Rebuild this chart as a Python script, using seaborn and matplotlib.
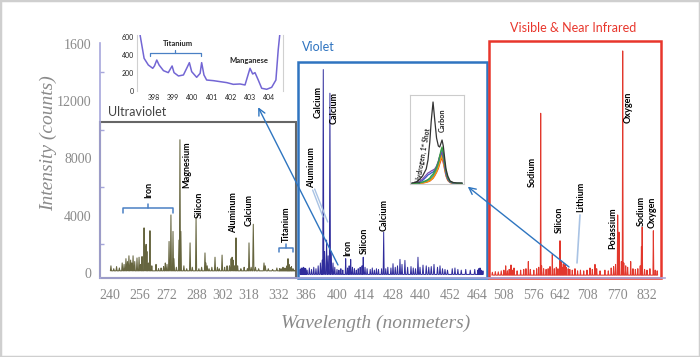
import numpy as np
import matplotlib
matplotlib.use('Agg')
import matplotlib.pyplot as plt
import seaborn as sns
import pandas as pd
from matplotlib.patches import Rectangle

sns.set_theme(style='white')
plt.rcParams['font.family'] = ['Lato', 'DejaVu Sans']

# ---------------- data ----------------
# x-axis tick labels (non-uniform axis as in the original)
TICK_WL = [240, 256, 272, 288, 302, 318, 332, 386, 400, 414, 428, 440, 452, 464,
           508, 576, 642, 708, 770, 832]
Y_TICKS = [0, 4000, 8000, 12000, 16000]
Y_TICK_LABELS = ['0', '4000', '8000', '12000', '1600']

# Ultraviolet spectrum peaks (wavelength, intensity)
UV_PEAK_WL = [240.5, 242, 243.5, 245, 246.5, 247.5, 248.5, 249.3, 250.1, 251, 251.6, 252.3,
              253.2, 254.4, 255.5, 256.3, 257.2, 258.4, 259, 259.6, 260.1, 261, 261.9, 263,
              265.5, 267, 268.5, 270, 271, 272, 273.1, 274.1, 275.2, 275.7, 277, 278.4,
              278.9, 279.4, 281, 282.5, 284.3, 285.5, 287.5, 289, 290.5, 292.3, 292.8,
              293.5, 294.5, 296, 297.7, 299, 300, 301.5, 303, 304.5, 306, 307, 307.6, 308.2,
              309, 310, 311, 313, 315, 317, 318, 319, 320, 321, 322.5, 325, 325.6, 327, 329,
              331, 333, 336, 340, 344, 348, 350, 352, 354, 357, 360, 364]
UV_PEAK_I = [500, 300, 450, 350, 700, 600, 1000, 800, 1200, 900, 700, 1200,
             800, 1050, 1100, 600, 1150, 3150, 1800, 2000, 1500, 700, 2950, 500,
             600, 300, 350, 450, 700, 600, 2200, 4050, 2900, 1000, 400, 2300,
             9300, 2900, 500, 300, 2100, 400, 3800, 300, 400, 1400, 700,
             500, 300, 400, 1100, 400, 300, 1250, 400, 500, 500, 1000, 1100, 900,
             500, 2450, 500, 300, 400, 300, 2100, 400, 3400, 400, 300, 700, 500, 300, 250,
             350, 300, 300, 400, 350, 500, 1000, 600, 400, 450, 300, 200]

# Violet spectrum peaks
VIO_PEAK_WL = [374.5, 375.5, 376.5, 377.5, 378.5, 379.5, 380.5, 381.5, 382.5, 383.5, 384.5,
               385.5, 386.5, 387.5, 388.5, 389.5, 390.5, 391.5, 392.5, 393.3, 393.8, 394.4,
               395.3, 396.0, 396.8, 397.4, 398.2, 399, 400, 401, 402, 403, 404.5, 405.5,
               406.3, 407.1, 408, 409, 410, 411, 412, 413, 413.6, 414.5, 415.5, 417, 418,
               419, 420, 421, 422.5, 423.5, 424.5, 425.5, 427, 428, 429, 430, 431.1, 432,
               433.3, 434.5, 436, 437, 438, 439.1, 440, 441.2, 442.5, 443.5, 444.5, 445.6,
               447, 448, 449, 450, 451, 453, 454.2, 455.5, 457, 459, 461, 463, 465, 467,
               469.1, 471, 474]
VIO_PEAK_I = [250, 150, 350, 200, 300, 250, 400, 200, 300, 350, 250,
              300, 200, 350, 250, 400, 300, 500, 700, 900, 14200, 1500,
              2300, 1200, 12550, 1500, 700, 400, 250, 200, 300, 200, 1000, 350,
              500, 950, 400, 300, 200, 300, 400, 500, 1100, 400, 300, 250, 350,
              200, 300, 250, 300, 2850, 300, 400, 350, 650, 400, 500, 950, 600,
              880, 400, 450, 350, 300, 1100, 400, 550, 500, 400, 450, 600,
              400, 500, 300, 250, 200, 300, 350, 250, 200, 250, 200, 250, 200, 300,
              350, 200, 150]

# Visible & near infrared spectrum peaks
VIS_PEAK_WL = [490, 495, 500, 505, 510, 514.1, 518, 522, 526.1, 529, 532.9, 540, 548, 555,
               560, 565.4, 570, 578, 585, 590, 594.8, 597, 602, 608, 613, 617.6, 623.2, 628,
               633, 637, 642, 644.4, 647, 650, 654.2, 657, 662, 666, 672, 678.6, 685, 692,
               700, 708, 714.2, 719, 724.5, 728, 735, 745, 752, 758, 763, 767, 771.4, 774.1,
               779, 781.8, 784, 788, 792, 798.3, 803, 808, 813, 818, 820.5, 822, 827, 832,
               838, 845.1, 849, 853]
VIS_PEAK_I = [50, 100, 80, 150, 200, 500, 150, 250, 560, 200, 350, 150, 200, 250,
              300, 800, 250, 200, 300, 400, 11150, 500, 300, 250, 300, 450, 1300, 300,
              400, 300, 2250, 800, 400, 650, 600, 400, 300, 250, 200, 300, 150, 200,
              150, 200, 350, 250, 600, 300, 150, 200, 150, 350, 450, 600, 4050, 2850,
              800, 15500, 700, 500, 400, 800, 300, 250, 300, 500, 1850, 3200, 250, 200,
              300, 2950, 200, 150]

# Titanium / manganese inset spectrum
TI_WL = [397.27, 397.48, 397.70, 397.93, 398.02, 398.14, 398.26, 398.49, 398.74, 398.94,
         399.04, 399.27, 399.53, 399.74, 399.84, 399.96, 400.22, 400.40, 400.48, 400.60,
         400.74, 401.09, 401.44, 401.79, 402.13, 402.48, 402.74, 403.0, 403.14, 403.26,
         403.43, 403.61, 403.87, 404.13, 404.35, 404.47, 404.56]
TI_I = [622, 363, 289, 252, 278, 344, 289, 226, 204, 278,
        204, 167, 178, 270, 315, 215, 152, 196, 315, 178,
        122, 115, 104, 93, 74, 78, 67, 252, 189, 204,
        122, 30, 19, 41, 122, 456, 644]

# Hydrogen / carbon inset (several laser shots)
HC_WL = [654.2, 654.6, 655.0, 655.4, 655.8, 656.0, 656.2, 656.35, 656.56, 656.75, 656.95,
         657.15, 657.3, 657.45, 657.56, 657.7, 657.85, 658.0, 658.2, 658.45, 658.8, 659.2, 659.8]
HC_SHOT1 = [100, 150, 400, 800, 1500, 2400, 4200, 6200, 8200, 6400, 4600,
            3800, 3700, 4100, 4400, 3800, 2600, 1500, 800, 300, 150, 100, 100]
HC_PURPLE = [50, 80, 200, 500, 900, 1100, 1200, 1300, 1400, 1500, 1800,
             2300, 2800, 3100, 3200, 2700, 1900, 1100, 500, 200, 100, 60, 50]
HC_BLUE = [50, 70, 150, 350, 700, 900, 1000, 1100, 1200, 1400, 1700,
           2200, 2700, 3000, 3100, 2600, 1800, 1000, 450, 180, 90, 60, 50]
HC_GREEN = [50, 60, 100, 200, 350, 450, 600, 800, 1000, 1300, 1700,
            2200, 2800, 3400, 3700, 3100, 2100, 1300, 600, 250, 120, 80, 60]
HC_TEAL = [40, 50, 90, 180, 300, 400, 500, 650, 850, 1150, 1550,
           2100, 2700, 3200, 3500, 2900, 2000, 1200, 550, 220, 100, 60, 50]
HC_ORANGE = [30, 40, 70, 130, 230, 300, 380, 500, 700, 1000, 1400,
             1900, 2400, 2800, 3000, 2500, 1700, 1000, 450, 180, 80, 50, 40]
HC_YELLOW = [30, 40, 60, 110, 200, 260, 330, 450, 620, 900, 1250,
             1700, 2200, 2600, 2800, 2300, 1600, 900, 400, 160, 70, 40, 30]
HC_RED = [20, 30, 50, 90, 160, 220, 290, 400, 560, 820, 1150,
          1550, 2000, 2400, 2600, 2100, 1450, 800, 350, 140, 60, 40, 30]

# ---------------- layout of the non-uniform wavelength axis ----------------
ANCHOR_WL = np.array([200] + TICK_WL + [900], dtype=float)
ANCHOR_POS = np.array([35, 110, 140, 167, 197, 223, 249, 279, 306, 337, 364, 393, 420,
                       450, 477, 503, 533, 560, 587, 617, 647, 680], dtype=float)


def fwd(x):
    return np.interp(x, ANCHOR_WL, ANCHOR_POS)


def inv(p):
    return np.interp(p, ANCHOR_POS, ANCHOR_WL)


def stick_line(wl, inten, base, w):
    xs, ys = [], []
    for c, h in zip(wl, inten):
        xs += [c - w, c, c + w]
        ys += [base, h, base]
    return pd.DataFrame({'wl': xs, 'I': ys})


W, H = 700, 357
fig = plt.figure(figsize=(7.0, 3.57), dpi=100)
fig.patch.set_facecolor('white')
fig.patches.append(Rectangle((0, 0), 1, 1, transform=fig.transFigure, fill=False,
                             ec='#cfcfcf', lw=2.5))

ax = fig.add_axes([100 / W, (H - 278) / H, 565 / W, 235 / H])
ax.set_xscale('function', functions=(fwd, inv))
ax.set_xlim(inv(100), inv(665))
ax.set_ylim(-350, 16054)

UV_C = '#66653f'
VIO_C = '#2f2c9c'
VIS_C = '#e2372c'
sns.lineplot(data=stick_line(UV_PEAK_WL, UV_PEAK_I, 150, 0.3), x='wl', y='I', sort=False,
             estimator=None, color=UV_C, lw=0.75, ax=ax)
sns.lineplot(data=stick_line(VIO_PEAK_WL, VIO_PEAK_I, -100, 0.25), x='wl', y='I', sort=False,
             estimator=None, color=VIO_C, lw=0.7, ax=ax)
sns.lineplot(data=stick_line(VIS_PEAK_WL, VIS_PEAK_I, -150, 0.9), x='wl', y='I', sort=False,
             estimator=None, color=VIS_C, lw=0.75, ax=ax)

# axes styling
SPINE_C = '#a7a7dc'
for s in ['top', 'right']:
    ax.spines[s].set_visible(False)
for s in ['left', 'bottom']:
    ax.spines[s].set_color(SPINE_C)
    ax.spines[s].set_linewidth(1.2)
ax.set_xticks(TICK_WL)
ax.set_xticklabels([str(t) for t in TICK_WL])
ax.set_yticks(Y_TICKS)
ax.set_yticklabels(Y_TICK_LABELS)
ax.set_yticks([2000, 6000, 10000, 14000], minor=True)
ax.tick_params(axis='both', which='major', direction='in', length=5, color=SPINE_C,
               labelsize=10, labelcolor='#8a8a8a')
ax.tick_params(axis='x', pad=8)
ax.tick_params(axis='y', pad=6)
ax.tick_params(axis='y', which='minor', direction='in', length=3, color=SPINE_C, left=True)
for lbl in ax.get_xticklabels() + ax.get_yticklabels():
    lbl.set_fontfamily('Liberation Serif')
ax.set_xlabel('')
ax.set_ylabel('')
fig.text(48 / W, 1 - 143 / H, 'Intensity (counts)', rotation=90, ha='center', va='center',
         fontsize=14, style='italic', family='Liberation Serif', color='#8a8a8a')
fig.text(376 / W, 1 - 323 / H, 'Wavelength (nonmeters)', ha='center', va='center',
         fontsize=14, style='italic', family='Liberation Serif', color='#8a8a8a')

# region boxes
ax.add_patch(Rectangle((0.0, 0.0), 0.347, 0.664, transform=ax.transAxes, fill=False,
                       ec='#666666', lw=1.5, clip_on=False))
ax.add_patch(Rectangle((0.350, 0.0), 0.335, 0.919, transform=ax.transAxes, fill=False,
                       ec='#2f74c0', lw=1.8, clip_on=False))
ax.add_patch(Rectangle((0.688, 0.0), 0.305, 1.009, transform=ax.transAxes, fill=False,
                       ec='#e8362c', lw=1.8, clip_on=False))
ax.text(0.014, 0.706, 'Ultraviolet', transform=ax.transAxes, fontsize=9, color='#444444',
        ha='left', va='center')
ax.text(0.358, 0.983, 'Violet', transform=ax.transAxes, fontsize=9, color='#2f74c0',
        ha='left', va='center')
ax.text(0.726, 1.064, 'Visible & Near Infrared', transform=ax.transAxes, fontsize=9,
        color='#e8362c', ha='left', va='center')

# peak labels
LBL = dict(rotation=90, ha='center', va='center', fontsize=6.5, fontweight='bold',
           color='black')
peak_labels = [
    ('Iron', 261.3, 5800), ('Magnesium', 282.4, 7540), ('Silicon', 289.1, 4750),
    ('Aluminum', 308.2, 4190), ('Calcium', 318.2, 4400), ('Titanium', 346, 3400),
    ('Calcium', 391.7, 11940), ('Calcium', 398.7, 11520), ('Aluminum', 388.7, 7330),
    ('Iron', 405.7, 1745), ('Silicon', 414, 2230), ('Calcium', 423.7, 4050),
    ('Sodium', 574.9, 7050), ('Silicon', 640.8, 3700), ('Lithium', 692.1, 5300),
    ('Potassium', 760.7, 3140), ('Oxygen', 793.8, 11590), ('Sodium', 820.6, 4330),
    ('Oxygen', 843.4, 4260),
]
for t, x, y in peak_labels:
    ax.text(x, y, t, **LBL)

BR_C = '#4a80c4'
# brackets (Iron, Titanium)
ax.plot([246.9, 246.9, 275.2, 275.2], [4190, 4540, 4540, 4190], color=BR_C, lw=1.1)
ax.plot([261.0, 261.0], [4540, 4820], color=BR_C, lw=1.1)
ax.plot([332.5, 332.5, 360, 360], [1466, 1745, 1745, 1466], color=BR_C, lw=1.1)
ax.plot([346, 346], [1745, 2024], color=BR_C, lw=1.1)
# leader lines
LEAD_C = '#a9c3e4'
ax.plot([389.9, 395.8], [5860, 3560], color=LEAD_C, lw=1.0)
ax.plot([389.0, 393.7], [5790, 3910], color=LEAD_C, lw=1.0)
ax.plot([690.9, 683.6], [4050, 700], color=LEAD_C, lw=1.2)

# ---------------- titanium / manganese inset ----------------
ax_ti = fig.add_axes([137 / W, (H - 91) / H, 146 / W, 56 / H])
sns.lineplot(x=TI_WL, y=TI_I, sort=False, estimator=None, color='#7366d4', lw=1.1, ax=ax_ti)
ax_ti.set_xlim(397.11, 404.72)
ax_ti.set_ylim(0, 622)
ax_ti.set_xticks([398, 399, 400, 401, 402, 403, 404])
ax_ti.set_yticks([0, 200, 400, 600])
ax_ti.tick_params(labelsize=5, length=0, pad=2, labelcolor='#222222')
for s in ax_ti.spines.values():
    s.set_color('#d0d0d0')
    s.set_linewidth(0.8)
ax_ti.spines['top'].set_visible(False)
ax_ti.spines['bottom'].set_visible(False)
ax_ti.patch.set_alpha(0)
ax_ti.text(399.25, 533, 'Titanium', fontsize=5.5, fontweight='bold', ha='center', va='center')
ax_ti.text(402.95, 344, 'Manganese', fontsize=5.5, fontweight='bold', ha='center', va='center')
ax_ti.plot([397.79, 397.79, 400.45, 400.45], [389, 422, 422, 389], color=BR_C, lw=0.9)
ax_ti.plot([399.1, 399.1], [422, 455], color=BR_C, lw=0.9)

# ---------------- hydrogen / carbon inset ----------------
ax_hc = fig.add_axes([410 / W, (H - 184) / H, 54 / W, 89 / H])
for ys, c in [(HC_RED, '#e03a2a'), (HC_YELLOW, '#f2c200'), (HC_ORANGE, '#f08a10'),
              (HC_TEAL, '#2a9c9a'), (HC_BLUE, '#3558c8'), (HC_PURPLE, '#7a4cb0'),
              (HC_GREEN, '#3aa040'), (HC_SHOT1, '#333333')]:
    sns.lineplot(x=HC_WL, y=ys, sort=False, estimator=None, color=c, lw=0.9, ax=ax_hc)
ax_hc.set_xlim(654.0, 660.0)
ax_hc.set_ylim(0, 8900)
ax_hc.set_xticks([])
ax_hc.set_yticks([])
ax_hc.set_xlabel('')
ax_hc.set_ylabel('')
for s in ax_hc.spines.values():
    s.set_color('#cccccc')
    s.set_linewidth(0.8)
ax_hc.text(655.5, 2900, 'Hydrogen, 1ˢᵗ Shot', rotation=80, fontsize=4.8, fontweight='bold',
           ha='center', va='center', family=['Lato', 'DejaVu Sans'])
ax_hc.text(657.6, 6400, 'Carbon', rotation=90, fontsize=5.2, fontweight='bold',
           ha='center', va='center')

# arrows from spectrum to insets
ARR_C = '#2e75c0'
ax.annotate('', xy=(0.83, -0.29), xycoords=ax_ti.transAxes, xytext=(400.5, 560),
            textcoords='data', arrowprops=dict(arrowstyle='->', color=ARR_C, lw=1.0,
                                               mutation_scale=12, shrinkA=0, shrinkB=0))
ax.annotate('', xy=(1.07, -0.03), xycoords=ax_hc.transAxes, xytext=(664, 420),
            textcoords='data', arrowprops=dict(arrowstyle='->', color=ARR_C, lw=1.0,
                                               mutation_scale=12, shrinkA=0, shrinkB=0))

fig.savefig('out.png', dpi=100)
